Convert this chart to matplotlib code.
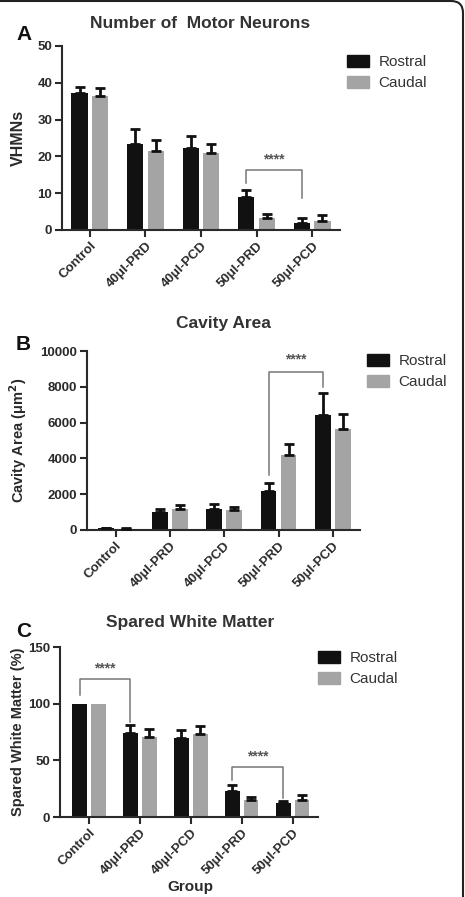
"""
Motor neurons, cavity area and spared white matter, rostral vs caudal.
"""

import numpy as np
import matplotlib
matplotlib.use('Agg')
import matplotlib.pyplot as plt
from matplotlib.patches import FancyBboxPatch, Patch

plt.rcParams['font.family'] = ['Liberation Sans', 'DejaVu Sans']

groups = ['Control', '40\u03bcl-PRD', '40\u03bcl-PCD', '50\u03bcl-PRD', '50\u03bcl-PCD']
series = ['Rostral', 'Caudal']

neurons_rostral = [37.2, 23.5, 22.2, 9.0, 2.0]
neurons_rostral_err = [1.6, 4.0, 3.3, 1.8, 1.3]
neurons_caudal = [36.3, 21.5, 21.0, 3.2, 2.5]
neurons_caudal_err = [2.2, 3.0, 2.5, 1.1, 1.5]

cavity_rostral = [100, 1000, 1200, 2200, 6400]
cavity_rostral_err = [20, 200, 250, 400, 1250]
cavity_caudal = [80, 1200, 1100, 4200, 5650]
cavity_caudal_err = [20, 200, 200, 600, 850]

white_rostral = [100, 74, 70, 23, 12]
white_rostral_err = [0, 7, 7, 5, 2]
white_caudal = [100, 71, 73, 15, 15]
white_caudal_err = [0, 7, 7, 3, 4]

BLACK = '#111111'
GREY = '#a4a4a4'
AXC = '#2a2a2a'

W, H = 465, 897
fig = plt.figure(figsize=(W / 100, H / 100), dpi=100)


def px(x, y):
    return x / W, 1 - y / H


def panel(rect, rostral, r_err, caudal, c_err, ymax, ystep, xlim):
    ax = fig.add_axes(rect)
    x = np.arange(len(groups))
    off, bw = 0.185, 0.29
    ax.bar(x - off, rostral, bw, color=BLACK, zorder=2)
    ax.bar(x + off, caudal, bw, color=GREY, zorder=2)
    for xs, v, e in [(x - off, rostral, r_err), (x + off, caudal, c_err)]:
        e = np.array(e, dtype=float)
        keep = e > 0
        ax.errorbar(xs[keep], np.array(v)[keep], yerr=[np.zeros(keep.sum()), e[keep]],
                    fmt='none', ecolor=BLACK, elinewidth=2, capsize=3.5,
                    capthick=2, zorder=3)
    ax.set_xlim(*xlim)
    ax.set_ylim(0, ymax)
    ax.set_yticks(np.arange(0, ymax + 1, ystep))
    ax.set_xticks(x)
    ax.set_xticklabels(groups, rotation=45, ha='right', rotation_mode='anchor',
                       fontsize=9.5, fontweight='bold', color=AXC)
    for lab in ax.get_yticklabels():
        lab.set_fontsize(9.5)
        lab.set_fontweight('bold')
        lab.set_color(AXC)
    for s in ['top', 'right']:
        ax.spines[s].set_visible(False)
    for s in ['left', 'bottom']:
        ax.spines[s].set_linewidth(1.5)
        ax.spines[s].set_color(AXC)
    ax.tick_params(width=1.5, length=5, color=AXC, pad=2)
    return ax


def bracket(ax, x1, x2, y_top, y1, y2, y_star):
    ax.plot([x1, x1, x2, x2], [y1, y_top, y_top, y2], color='#777777', lw=1.1, zorder=4)
    ax.text((x1 + x2) / 2, y_star, '****', ha='center', va='center',
            fontsize=10, fontweight='bold', color='#555555')


def legend(ax, x, y):
    handles = [Patch(color=BLACK), Patch(color=GREY)]
    ax.legend(handles, series, loc='upper left', bbox_to_anchor=px(x, y),
              bbox_transform=fig.transFigure, frameon=False, borderpad=0,
              borderaxespad=0, handlelength=1.45, handleheight=0.8,
              handletextpad=0.6, labelspacing=0.45,
              prop={'size': 11}, labelcolor='#333333')


# A
axA = panel([62 / W, 1 - 230 / H, 278 / W, 184 / H], neurons_rostral, neurons_rostral_err,
            neurons_caudal, neurons_caudal_err, 50, 10, (-0.5, 4.5))
bracket(axA, 2.815, 3.815, 16.3, 12.8, 8.7, 19.2)
legend(axA, 347, 55)
axA.set_ylabel('VHMNs', fontsize=11.5, fontweight='bold', color=AXC)
axA.yaxis.set_label_coords(*px(26, 138), transform=fig.transFigure)

# B
axB = panel([87 / W, 1 - 530 / H, 273 / W, 179 / H], cavity_rostral, cavity_rostral_err,
            cavity_caudal, cavity_caudal_err, 10000, 2000, (-0.53, 4.5))
bracket(axB, 2.815, 3.815, 8830, 3070, 8000, 9500)
legend(axB, 367, 354)
axB.set_ylabel('Cavity Area (\u03bcm$^\\mathbf{2}$)', fontsize=10.5, fontweight='bold', color=AXC)
axB.yaxis.set_label_coords(*px(29, 440), transform=fig.transFigure)

# C
axC = panel([60 / W, 1 - 817 / H, 258 / W, 170 / H], white_rostral, white_rostral_err,
            white_caudal, white_caudal_err, 150, 50, (-0.57, 4.5))
bracket(axC, -0.185, 0.815, 122, 108, 84, 131)
bracket(axC, 2.815, 3.815, 44, 33, 17, 53)
legend(axC, 318, 651)
axC.set_ylabel('Spared White Matter (%)', fontsize=10.5, fontweight='bold', color=AXC)
axC.yaxis.set_label_coords(*px(25, 732), transform=fig.transFigure)

# titles and panel letters
for title, x, y in [('Number of  Motor Neurons', 200, 23), ('Cavity Area', 223, 323),
                    ('Spared White Matter', 190, 622)]:
    fig.text(*px(x, y), title, ha='center', va='center', fontsize=12.5,
             fontweight='bold', color='#333333')
for letter, y in [('A', 34), ('B', 344), ('C', 631)]:
    fig.text(*px(16, y), letter, ha='left', va='center', fontsize=15,
             fontweight='bold', color='#111111')
fig.text(*px(190, 887), 'Group', ha='center', va='center', fontsize=11,
         fontweight='bold', color=AXC)

# rounded outer frame
frame = FancyBboxPatch((-0.3, -0.3), 4.63 + 0.3, 8.96 + 0.3,
                       boxstyle='round,pad=0,rounding_size=0.12',
                       transform=fig.dpi_scale_trans, fill=False,
                       edgecolor='#222222', linewidth=1.5)
fig.patches.append(frame)

fig.savefig('out.png', dpi=100)
